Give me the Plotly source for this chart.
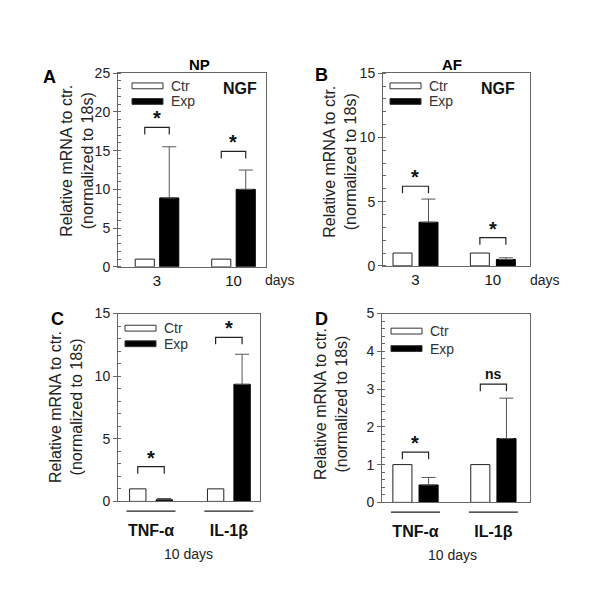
import plotly.graph_objects as go

W, H = 600, 596

# datos
dias = ['3', '10']
genes = ['<b>TNF-α</b>', '<b>IL-1β</b>']

ngf_np_ctr = [1.0, 1.0]
ngf_np_exp = [8.9, 10.0]
ngf_np_sd = [6.6, 2.5]

ngf_af_ctr = [1.0, 1.0]
ngf_af_exp = [3.4, 0.5]
ngf_af_sd = [1.8, 0.13]

cit_np_ctr = [1.0, 1.0]
cit_np_exp = [0.13, 9.35]
cit_np_sd = [0.1, 2.4]

cit_af_ctr = [1.0, 1.0]
cit_af_exp = [0.46, 1.69]
cit_af_sd = [0.2, 1.07]

# significancia: altura del corchete, etiqueta
sig_A = [(18.0, '*'), (14.9, '*')]
sig_B = [(6.2, '*'), (2.2, '*')]
sig_C = [(2.77, '*'), (13.1, '*')]
sig_D = [(1.33, '*'), (3.13, 'ns')]


def px(x, y):
    """pixeles -> coordenadas paper"""
    return x / W, 1 - y / H


paneles = [
    dict(cats=dias, ctr=ngf_np_ctr, exp=ngf_np_exp, sd=ngf_np_sd, sig=sig_A,
         box=(118, 67, 266, 266), xr=[-0.51, 1.425], yr=[0, 25], dt=5, mdt=1,
         d=0.16, w=0.25, leg=(132, 80, 96), letra='A', letra_xy=(49, 71),
         titulo='NP', titulo_xy=(199, 58), ngf=(240, 83), dias=(280, 279),
         ylab=(77, 157), abajo=False),
    dict(cats=dias, ctr=ngf_af_ctr, exp=ngf_af_exp, sd=ngf_af_sd, sig=sig_B,
         box=(383, 67, 530, 265), xr=[-0.42, 1.48], yr=[0, 15], dt=5, mdt=1,
         d=0.168, w=0.245, leg=(390, 80, 96), letra='B', letra_xy=(321, 69),
         titulo='AF', titulo_xy=(452, 58), ngf=(498, 83), dias=(545, 279),
         ylab=(340, 158), abajo=False),
    dict(cats=genes, ctr=cit_np_ctr, exp=cit_np_exp, sd=cit_np_sd, sig=sig_C,
         box=(118, 314, 260, 507), xr=[-0.424, 1.40], yr=[0, 15], dt=5, mdt=1,
         d=0.17, w=0.21, leg=(125, 329, 345), letra='C', letra_xy=(57, 320),
         titulo=None, titulo_xy=None, ngf=None, dias=(188, 561),
         ylab=(66, 410), abajo=True),
    dict(cats=genes, ctr=cit_af_ctr, exp=cit_af_exp, sd=cit_af_sd, sig=sig_D,
         box=(382, 314, 530, 508), xr=[-0.43, 1.47], yr=[0, 5], dt=1, mdt=0.2,
         d=0.168, w=0.245, leg=(391, 332, 350), letra='D', letra_xy=(321, 320),
         titulo=None, titulo_xy=None, ngf=None, dias=(452, 562),
         ylab=(331, 407), abajo=True),
]

FUENTE = 'Liberation Sans, Arial, sans-serif'
GRIS = '#666666'

fig = go.Figure()
shapes = []
anots = []
layout = {}


def texto(xy, txt, size, color='#222222', **kw):
    a, b = px(*xy)
    d = dict(x=a, y=b, xref='paper', yref='paper', text=txt, showarrow=False,
             xanchor='center', yanchor='middle',
             font=dict(family=FUENTE, size=size, color=color))
    d.update(kw)
    anots.append(d)


for i, p in enumerate(paneles):
    n = '' if i == 0 else str(i + 1)
    xa, ya = 'x' + n, 'y' + n
    x0, y0, x1, y1 = p['box']
    dx0, dy1 = px(x0, y0)
    dx1, dy0 = px(x1, y1)

    fig.add_trace(go.Bar(
        x=p['cats'], y=p['ctr'], xaxis=xa, yaxis=ya,
        width=p['w'], offset=-p['d'] - p['w'] / 2,
        marker=dict(color='white', line=dict(color='#222222', width=1)),
        showlegend=False
    ))
    fig.add_trace(go.Bar(
        x=p['cats'], y=p['exp'], xaxis=xa, yaxis=ya,
        width=p['w'], offset=p['d'] - p['w'] / 2,
        marker=dict(color='black', line=dict(color='black', width=1)),
        error_y=dict(type='data', symmetric=False, array=p['sd'],
                     arrayminus=[0] * len(p['sd']), color='#555555',
                     thickness=1, width=7),
        showlegend=False
    ))

    layout['xaxis' + n] = dict(
        domain=[dx0, dx1], anchor=ya, range=p['xr'], type='category',
        showline=True, linecolor=GRIS, linewidth=1, mirror=True,
        ticks='', showgrid=False, zeroline=False, fixedrange=True,
        tickfont=dict(family=FUENTE, size=(16 if p['abajo'] else 15), color='#111111'),
        ticklabelstandoff=(14 if p['abajo'] else 0),
    )
    layout['yaxis' + n] = dict(
        domain=[dy0, dy1], anchor=xa, range=p['yr'], dtick=p['dt'],
        showline=True, linecolor=GRIS, linewidth=1, mirror=True,
        ticks='outside', ticklen=4, tickcolor=GRIS,
        minor=dict(dtick=p['mdt'], ticks='inside', ticklen=3, tickcolor=GRIS),
        showgrid=False, zeroline=False,
        tickfont=dict(family=FUENTE, size=14, color='#222222'),
    )

    # corchetes de significancia
    for k, (h, txt) in enumerate(p['sig']):
        pata = (p['yr'][1] - p['yr'][0]) * 0.037
        shapes.append(dict(
            type='path', xref=xa, yref=ya,
            path=f'M {k - p["d"]},{h - pata} L {k - p["d"]},{h} '
                 f'L {k + p["d"]},{h} L {k + p["d"]},{h - pata}',
            line=dict(color='#222222', width=1.2)
        ))
        anots.append(dict(
            x=k, y=h, xref=xa, yref=ya, text=f'<b>{txt}</b>', showarrow=False,
            xanchor='center', yanchor='bottom', yshift=(-4 if txt == '*' else 0),
            font=dict(family=FUENTE, size=(20 if txt == '*' else 14), color='#111111')
        ))

    # leyenda dibujada
    lx, ly1, ly2 = p['leg']
    for yy, color in [(ly1, 'white'), (ly2, 'black')]:
        a0, b0 = px(lx, yy - 3)
        a1, b1 = px(lx + 31, yy + 3)
        shapes.append(dict(type='rect', xref='paper', yref='paper',
                           x0=a0, x1=a1, y0=b0, y1=b1, fillcolor=color,
                           line=dict(color='#333333', width=1)))
    for yy, txt in [(ly1, 'Ctr'), (ly2, 'Exp')]:
        texto((lx + 37, yy), txt, 14, '#333333', xanchor='left')

    texto(p['letra_xy'], f'<b>{p["letra"]}</b>', 18, 'black')
    texto(p['ylab'], 'Relative mRNA to ctr.<br>(normalized to 18s)', 16, textangle=-90)

    if p['titulo']:
        texto(p['titulo_xy'], f'<b>{p["titulo"]}</b>', 15, 'black')
    if p['ngf']:
        texto(p['ngf'], '<b>NGF</b>', 16, '#111111')

    texto(p['dias'], '10 days' if p['abajo'] else 'days', 14)

    # lineas bajo las etiquetas de genes
    if p['abajo']:
        _, yl = px(0, y1 + 10)
        for k in range(len(p['cats'])):
            shapes.append(dict(type='line', xref=xa, yref='paper',
                               x0=k - 0.315, x1=k + 0.315, y0=yl, y1=yl,
                               line=dict(color='#222222', width=1.2)))

fig.update_layout(
    width=W, height=H,
    margin=dict(l=0, r=0, t=0, b=0),
    paper_bgcolor='white', plot_bgcolor='white',
    barmode='overlay', showlegend=False,
    shapes=shapes, annotations=anots,
    **layout
)

fig.write_html(
    "out.html",
    config={'displayModeBar': False},
    post_script="document.body.style.margin='0';"
                "var gd=document.getElementById('{plot_id}');"
                "gd.style.position='fixed';gd.style.top='0px';gd.style.left='0px';"
)
